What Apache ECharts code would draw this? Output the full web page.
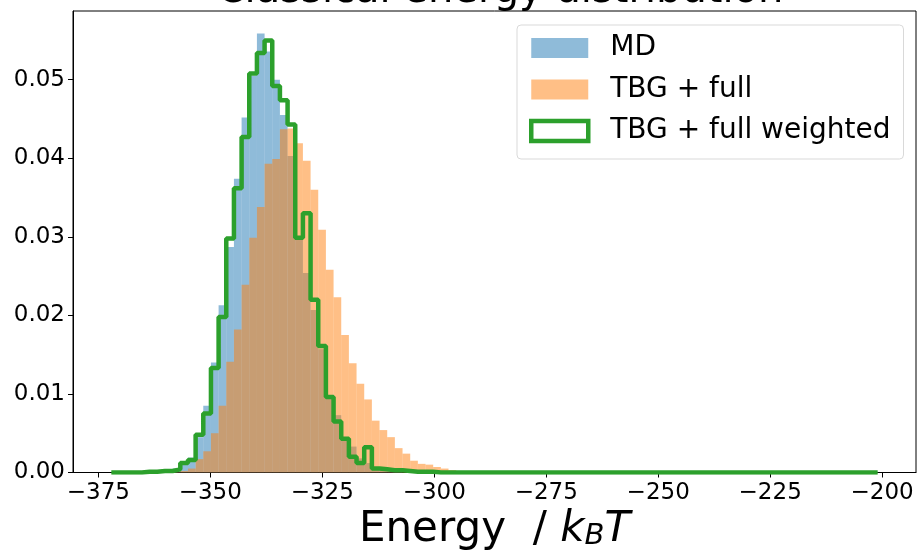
<!DOCTYPE html>
<html>
<head>
<meta charset="utf-8">
<style>
  html, body { margin: 0; padding: 0; background: #fff; }
  #energyHist { width: 917px; height: 552px; }
</style>
<script src="https://cdn.jsdelivr.net/npm/echarts@6/dist/echarts.min.js"></script>
</head>
<body>
<div id="energyHist"></div>
<script>
// 直方图分箱：100 个箱，从 binStart 开始
var binStart = -372.1;
var binWidth = 1.711;

// 各箱高度（密度）
var mdValues = [
    0, 0, 0, 0, 0, 0, 0.0001, 0.0002, 0.0005, 0.0012,
    0.0019, 0.0045, 0.0085, 0.0140, 0.0213, 0.0287, 0.0374, 0.0452, 0.0505, 0.0559,
    0.0536, 0.0500, 0.0455, 0.0403, 0.0296, 0.0254, 0.0207, 0.0157, 0.0096, 0.0073,
    0.0042, 0.0033, 0.0018, 0.0012, 0.0006, 0.0003, 0.0002, 0.0001, 0, 0
];
var tbgValues = [
    0, 0, 0, 0, 0, 0, 0, 0, 0.0001, 0.0002,
    0.0005, 0.0017, 0.0027, 0.0050, 0.0085, 0.0141, 0.0182, 0.0239, 0.0299, 0.0338,
    0.0393, 0.0399, 0.0437, 0.0438, 0.0419, 0.0397, 0.0360, 0.0309, 0.0258, 0.0223,
    0.0175, 0.0139, 0.0113, 0.0093, 0.0066, 0.0054, 0.0045, 0.0031, 0.0024, 0.0015,
    0.0011, 0.0010, 0.0007, 0.0005, 0.0003, 0.0001, 0, 0, 0, 0
];
var weightedValues = [
    0, 0, 0, 0, 0.0001, 0.0001, 0.0002, 0.0002, 0.0004, 0.0012,
    0.0016, 0.0048, 0.0075, 0.0133, 0.0198, 0.0298, 0.0362, 0.0427, 0.0508, 0.0534,
    0.0550, 0.0492, 0.0474, 0.0443, 0.0299, 0.0330, 0.0220, 0.0161, 0.0096, 0.0065,
    0.0043, 0.0020, 0.0012, 0.0032, 0.0005, 0.0004, 0.0003, 0.0003, 0.0002, 0.0001,
    0.0001, 0.0001, 0, 0, 0, 0, 0, 0, 0, 0
];

var xTicks = [-375, -350, -325, -300, -275, -250, -225, -200];
var yTicks = [0, 0.01, 0.02, 0.03, 0.04, 0.05];

var NBINS = 100;
var FONT = 'DejaVu Sans';

function binValue(arr, i) {
    return i < arr.length ? arr[i] : 0;
}

function barData(arr) {
    var out = [];
    for (var i = 0; i < NBINS; i++) {
        out.push([binStart + i * binWidth, binStart + (i + 1) * binWidth, binValue(arr, i)]);
    }
    return out;
}

// histtype='step' 的轮廓线
function stepData(arr) {
    var out = [[binStart, 0]];
    for (var i = 0; i < NBINS; i++) {
        out.push([binStart + i * binWidth, binValue(arr, i)]);
    }
    out.push([binStart + NBINS * binWidth, binValue(arr, NBINS - 1)]);
    out.push([binStart + NBINS * binWidth, 0]);
    return out;
}

function makeRender(fill) {
    return function (params, api) {
        var p0 = api.coord([api.value(0), api.value(2)]);
        var p1 = api.coord([api.value(1), 0]);
        return {
            type: 'rect',
            shape: { x: p0[0], y: p0[1], width: p1[0] - p0[0], height: p1[1] - p0[1] },
            style: { fill: fill }
        };
    };
}

var xMin = binStart - 0.05 * NBINS * binWidth;
var xMax = binStart + 1.05 * NBINS * binWidth;

var energyHist = echarts.init(document.getElementById('energyHist'));

var option = {
    animation: false,
    title: {
        text: 'Classical energy distribution',
        left: 495,
        textAlign: 'center',
        top: -33,
        textStyle: { fontFamily: FONT, fontSize: 40, fontWeight: 'normal', color: '#000' }
    },
    grid: {
        left: 73, right: 1, top: 11, bottom: 79.5,
        outerBoundsMode: 'none',
        show: true, borderColor: '#000', borderWidth: 1, backgroundColor: 'transparent'
    },
    legend: {
        orient: 'vertical',
        left: 517,
        top: 25,
        padding: [7, 13, 12, 12],
        itemGap: 9.5,
        itemWidth: 57,
        itemHeight: 20,
        backgroundColor: 'rgba(255,255,255,0.8)',
        borderColor: '#d9d9d9',
        borderWidth: 1,
        borderRadius: 4,
        textStyle: { fontFamily: FONT, fontSize: 28, color: '#000', lineHeight: 32, padding: [0, 0, 0, 17] },
        data: [
            { name: 'MD', icon: 'rect', itemStyle: { color: 'rgba(31,119,180,0.5)' } },
            { name: 'TBG + full', icon: 'rect', itemStyle: { color: 'rgba(255,127,14,0.5)' } },
            { name: 'TBG + full weighted', icon: 'rect',
              itemStyle: { color: '#fff', borderColor: '#2ca02c', borderWidth: 4.5 } }
        ]
    },
    xAxis: {
        type: 'value',
        min: xMin,
        max: xMax,
        splitLine: { show: false },
        axisLine: { show: true, onZero: false, lineStyle: { color: '#000', width: 1 } },
        axisTick: { show: true, length: 5, customValues: xTicks, lineStyle: { color: '#000' } },
        axisLabel: {
            customValues: xTicks,
            margin: 9,
            fontFamily: FONT, fontSize: 23, color: '#000',
            formatter: function (v) { return (v < 0 ? '\u2212' : '') + Math.abs(v); }
        },
        name: '{n|Energy  / }{i|k}{s|B}{i|T}',
        nameLocation: 'middle',
        nameGap: 26,
        nameTextStyle: {
            fontFamily: FONT, fontSize: 42, color: '#000',
            rich: {
                n: { fontFamily: FONT, fontSize: 42, color: '#000', lineHeight: 52, verticalAlign: 'bottom' },
                i: { fontFamily: FONT, fontSize: 42, fontStyle: 'italic', color: '#000', lineHeight: 52, verticalAlign: 'bottom' },
                s: { fontFamily: FONT, fontSize: 29, fontStyle: 'italic', color: '#000', lineHeight: 39, verticalAlign: 'bottom' }
            }
        }
    },
    yAxis: {
        type: 'value',
        min: 0,
        max: 0.05875,
        splitLine: { show: false },
        axisLine: { show: true, lineStyle: { color: '#000', width: 1 } },
        axisTick: { show: true, length: 5, customValues: yTicks, lineStyle: { color: '#000' } },
        axisLabel: {
            customValues: yTicks,
            margin: 8,
            fontFamily: FONT, fontSize: 23, color: '#000',
            formatter: function (v) { return v.toFixed(2); }
        }
    },
    series: [
        {
            name: 'MD',
            type: 'custom',
            renderItem: makeRender('rgba(31,119,180,0.5)'),
            encode: { x: [0, 1], y: 2 },
            itemStyle: { color: 'rgba(31,119,180,0.5)' },
            data: barData(mdValues),
            z: 2
        },
        {
            name: 'TBG + full',
            type: 'custom',
            renderItem: makeRender('rgba(255,127,14,0.5)'),
            encode: { x: [0, 1], y: 2 },
            itemStyle: { color: 'rgba(255,127,14,0.5)' },
            data: barData(tbgValues),
            z: 3
        },
        {
            name: 'TBG + full weighted',
            type: 'line',
            step: 'end',
            showSymbol: false,
            symbol: 'none',
            itemStyle: { color: '#2ca02c' },
            lineStyle: { color: '#2ca02c', width: 4.5 },
            data: stepData(weightedValues),
            z: 4
        }
    ]
};

energyHist.setOption(option);
</script>
</body>
</html>
